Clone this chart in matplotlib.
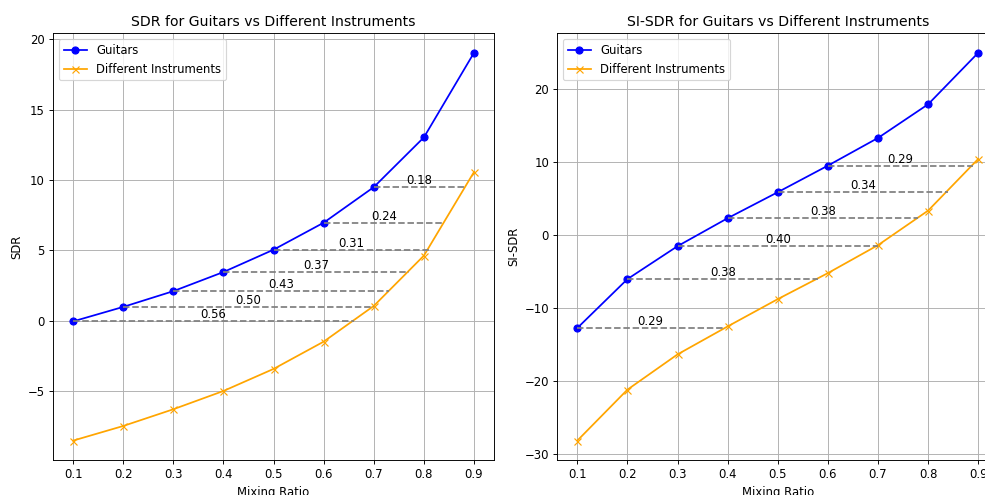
import numpy as np
import matplotlib
matplotlib.use("Agg")
import matplotlib.pyplot as plt

ratios = [0.1, 0.2, 0.3, 0.4, 0.5, 0.6, 0.7, 0.8, 0.9]

#SDR values
sdr_guitars = [-0.05, 0.98, 2.1, 3.46, 5.05, 6.97, 9.5, 13.04, 19.06]
sdr_different = [-8.53, -7.49, -6.3, -5.0, -3.43, -1.49, 1.05, 4.63, 10.58]
sdr_gaps = [0.56, 0.50, 0.43, 0.37, 0.31, 0.24, 0.18]

#SI-SDR values
sisdr_guitars = [-12.76, -6.06, -1.55, 2.28, 5.84, 9.48, 13.27, 17.88, 24.94]
sisdr_different = [-28.18, -21.2, -16.37, -12.54, -8.8, -5.24, -1.41, 3.32, 10.4]
sisdr_gaps = [0.29, 0.38, 0.40, 0.38, 0.34, 0.29]


def draw_panel(ax, guitars, different, gaps, title, ylabel):
    ax.plot(ratios, guitars, marker='o', color='blue', label='Guitars')
    ax.plot(ratios, different, marker='x', color='orange', label='Different Instruments')

    #Dashed lines showing how much more mixing the other instruments need
    for i, gap in enumerate(gaps):
        x0 = ratios[i]
        y0 = guitars[i]
        ax.plot([x0, x0 + gap], [y0, y0], linestyle='--', color='gray')
        ax.text(x0 + gap / 2, y0, f"{gap:.2f}", ha='center', va='bottom')

    ax.set_title(title)
    ax.set_xlabel("Mixing Ratio")
    ax.set_ylabel(ylabel)
    ax.set_xticks(ratios)
    ax.legend(loc='upper left')
    ax.grid(True)


#Reference looks like a scaled down render, so use a lower dpi
dpi = 84
fig = plt.figure(figsize=(986 / dpi, 495 / dpi), dpi=dpi)
ax1 = fig.add_axes([0.0538, 0.0707, 0.4473, 0.862])
ax2 = fig.add_axes([0.5652, 0.0707, 0.4473, 0.862])

draw_panel(ax1, sdr_guitars, sdr_different, sdr_gaps, "SDR for Guitars vs Different Instruments", "SDR")
draw_panel(ax2, sisdr_guitars, sisdr_different, sisdr_gaps, "SI-SDR for Guitars vs Different Instruments", "SI-SDR")

fig.savefig("out.png", dpi=dpi)
